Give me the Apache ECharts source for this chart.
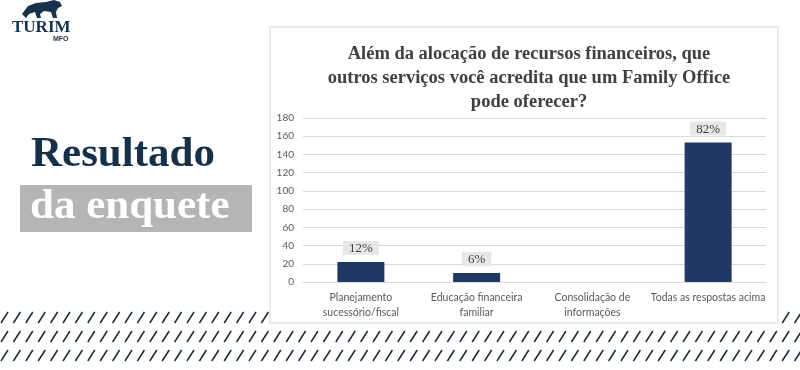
<!DOCTYPE html>
<html>
<head>
<meta charset="utf-8">
<script src="https://cdn.jsdelivr.net/npm/echarts@6/dist/echarts.min.js"></script>
<style>
html,body{margin:0;padding:0;background:#fff;}
#c{width:800px;height:370px;}
</style>
</head>
<body>
<div id="c"></div>
<script>
var categories = ['Planejamento\nsucessório/fiscal', 'Educação financeira\nfamiliar', 'Consolidação de\ninformações', 'Todas as respostas acima'];
var values = [22, 10, 0, 153];
var pctLabels = ['12%', '6%', '', '82%'];
var yTicks = {min: 0, max: 180, interval: 20};
var chartTitle = 'Além da alocação de recursos financeiros, que\noutros serviços você acredita que um Family Office\npode oferecer?';

var chart = echarts.init(document.getElementById('c'), null, {renderer: 'canvas'});

// decorative hatch pattern
var hatch = [];
var rows = [312, 331, 350];
rows.forEach(function (y0) {
  for (var x = 1; x < 800; x += 12.4) {
    hatch.push({
      type: 'line', z: -10, silent: true,
      shape: {x1: x, y1: y0 + 11, x2: x + 7, y2: y0},
      style: {stroke: '#1b2838', lineWidth: 1.5}
    });
  }
});

var graphics = hatch.concat([
  {type: 'rect', z: -5, silent: true, shape: {x: 270, y: 27, width: 508, height: 296},
   style: {fill: '#ffffff', stroke: '#d6d6d6', lineWidth: 1}},
  {type: 'text', z: 5, left: 31, top: 133,
   style: {text: 'Resultado', fill: '#14304a', font: 'bold 43px "Liberation Serif", "DejaVu Serif", serif'}},
  {type: 'rect', z: 4, silent: true, shape: {x: 20, y: 185, width: 232, height: 47}, style: {fill: '#b5b5b5'}},
  {type: 'text', z: 5, left: 30, top: 185,
   style: {text: 'da enquete', fill: '#ffffff', font: 'bold 43px "Liberation Serif", "DejaVu Serif", serif'}},
  {type: 'polygon', z: 5, silent: true,
   shape: {points: [[22,14],[28,6],[36,3],[46,2],[54,0],[60,2],[62,6],[58,8],[56,12],[57,18],[53,18],[51,12],[44,11],[40,14],[41,18],[37,18],[35,12],[29,14],[26,18]]},
   style: {fill: '#17324c'}},
  {type: 'text', z: 5, left: 12, top: 19,
   style: {text: 'TURIM', fill: '#17324c', font: 'bold 17px "Liberation Serif", serif'}},
  {type: 'text', z: 5, left: 53, top: 36,
   style: {text: 'MFO', fill: '#17324c', font: 'bold 7px "Liberation Sans", sans-serif'}}
]);

var option = {
  animation: false,
  backgroundColor: '#ffffff',
  title: {
    text: chartTitle,
    left: 524, top: 37, textAlign: 'center',
    textStyle: {fontFamily: '"Liberation Serif", serif', fontWeight: 'bold', fontSize: 18.5, color: '#404040', lineHeight: 24, align: 'center'}
  },
  grid: {left: 303, right: 34, top: 118, bottom: 88},
  xAxis: {
    type: 'category', data: categories,
    axisLine: {lineStyle: {color: '#d9d9d9'}},
    axisTick: {show: false},
    axisLabel: {interval: 0, color: '#595959', fontFamily: 'Lato, "Liberation Sans", sans-serif', fontSize: 10.5, lineHeight: 15, margin: 8}
  },
  yAxis: {
    type: 'value', min: yTicks.min, max: yTicks.max, interval: yTicks.interval,
    axisLine: {show: false}, axisTick: {show: false},
    splitLine: {lineStyle: {color: '#d9d9d9'}},
    axisLabel: {color: '#595959', fontFamily: 'Lato, "Liberation Sans", sans-serif', fontSize: 10, margin: 9}
  },
  series: [{
    type: 'bar',
    barWidth: 47,
    itemStyle: {color: '#1f3864'},
    data: values.map(function (v, i) {
      return {value: v, label: {show: pctLabels[i] !== ''}};
    }),
    label: {
      position: 'top', distance: 7,
      formatter: function (p) { return pctLabels[p.dataIndex]; },
      fontFamily: '"Liberation Serif", serif', fontSize: 13, color: '#404040',
      backgroundColor: '#e7e7e7', padding: [1, 6, 0, 6]
    }
  }],
  graphic: graphics
};
chart.setOption(option);
</script>
</body>
</html>
